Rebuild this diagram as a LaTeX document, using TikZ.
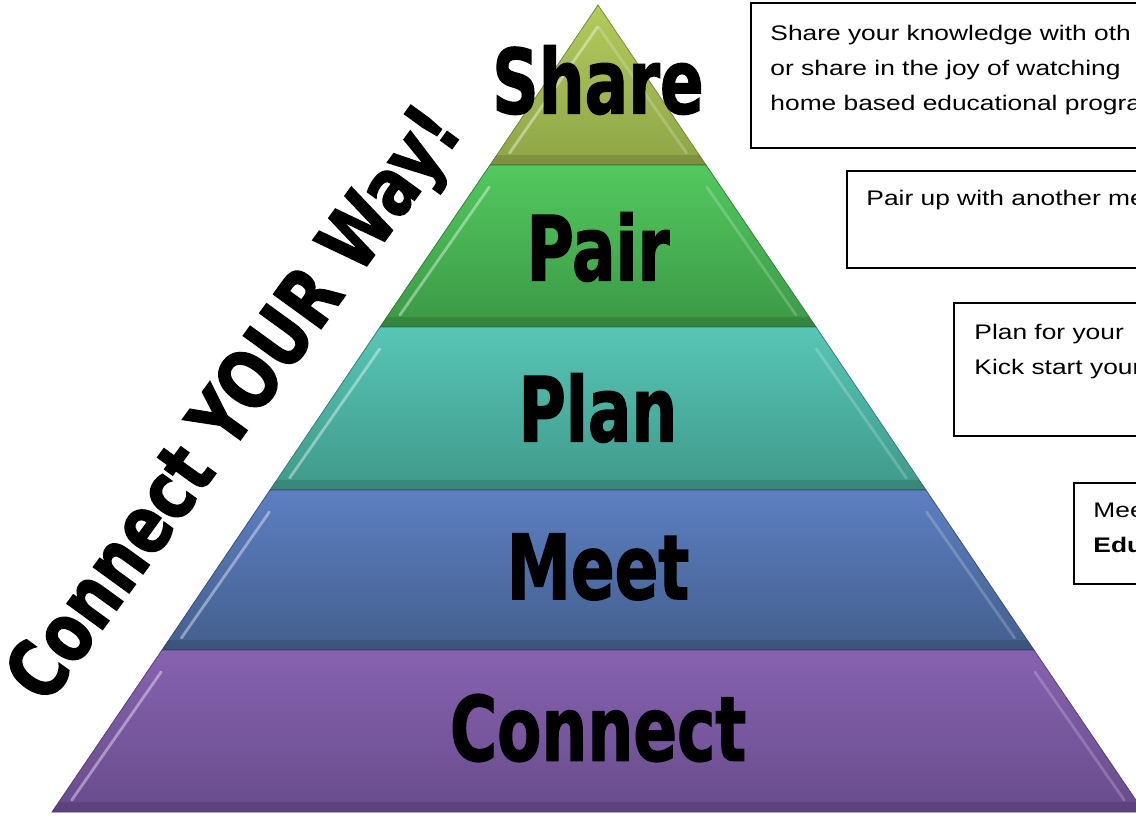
\documentclass[tikz,border=0pt]{standalone}
\usepackage{fontspec}
\setmainfont{Liberation Sans}
\newfontfamily\tierfont{DejaVu Sans Condensed Bold}[FakeBold=1.6]
\usetikzlibrary{positioning}

\definecolor{shareT}{HTML}{B3CA5C}
\definecolor{shareB}{HTML}{8EA548}
\definecolor{pairT}{HTML}{52C95E}
\definecolor{pairB}{HTML}{3C9846}
\definecolor{planT}{HTML}{58C6B6}
\definecolor{planB}{HTML}{3F998A}
\definecolor{meetT}{HTML}{5D7FC2}
\definecolor{meetB}{HTML}{435F8E}
\definecolor{connT}{HTML}{8762B0}
\definecolor{connB}{HTML}{684C8C}

\tikzset{
  tier/.style={font=\tierfont\fontsize{51}{51}\selectfont, xscale=0.8, inner sep=0pt},
  slogan/.style={font=\tierfont\fontsize{46}{46}\selectfont, rotate=54, xscale=0.87, inner sep=0pt},
  descbox/.style={draw=black, line width=1.3pt, fill=white, anchor=north west, inner sep=0pt},
  desctext/.style={anchor=north west, align=left, inner sep=0pt, xscale=1.25,
    font=\fontsize{12}{19.9}\selectfont},
  bevel/.style={white, opacity=0.4, line width=1.6pt, line cap=round},
}

\begin{document}
\begin{tikzpicture}[x=0.02cm,y=-0.02cm]
  \useasboundingbox (0,0) rectangle (1136,815);
  \clip (0,0) rectangle (1136,815);

  % pyramid bands, apex (598,5), base y=812
  \shade [top color=shareT, bottom color=shareB, draw=shareB!80!black] (598,5) -- (706,165) -- (490,165) -- cycle;
  \shade [top color=pairT, bottom color=pairB, draw=pairB!80!black] (490,165) -- (706,165) -- (816,327) -- (380,327) -- cycle;
  \shade [top color=planT, bottom color=planB, draw=planB!80!black] (380,327) -- (816,327) -- (926,490) -- (270,490) -- cycle;
  \shade [top color=meetT, bottom color=meetB, draw=meetB!80!black] (270,490) -- (926,490) -- (1034,650) -- (162,650) -- cycle;
  \shade [top color=connT, bottom color=connB, draw=connB!80!black] (162,650) -- (1034,650) -- (1144,812) -- (52,812) -- cycle;

  % bevel edges
  \foreach \ya/\yb in {5/165,165/327,327/490,490/650,650/812}
  {
    \fill [black, opacity=0.12] ({598-0.6766*(\yb-15)},{\yb-10}) -- ({598+0.6766*(\yb-15)},{\yb-10})
      -- ({598+0.6766*(\yb-5)},\yb) -- ({598-0.6766*(\yb-5)},\yb) -- cycle;
    \draw [bevel] ({598-0.6766*(\ya+12)+11},{\ya+22}) -- ({598-0.6766*(\yb-18)+11},{\yb-12});
    \draw [bevel, opacity=0.2] ({598+0.6766*(\ya+12)-11},{\ya+22}) -- ({598+0.6766*(\yb-18)-11},{\yb-12});
  }

  % tier labels
  \node [tier] (share) at (598,80) {Share};
  \node [tier] (pair) at (598,247) {Pair};
  \node [tier] (plan) at (598,408) {Plan};
  \node [tier] (meet) at (598,567) {Meet};
  \node [tier] (connect) at (598,728) {Connect};

  % slogan
  \node [slogan] (title) at (238,407) {Connect YOUR Way!};

  % description boxes
  \node [descbox, minimum width=9cm, minimum height=2.9cm] (sharebox) at (750,2) {};
  \node [desctext] (sharetext) at ([shift={(20,23)}]sharebox.north west)
    {Share your knowledge with oth\\or share in the joy of watching\\home based educational progra};

  \node [descbox, minimum width=7cm, minimum height=1.94cm] (pairbox) at (846,170) {};
  \node [desctext] (pairtext) at ([shift={(20,20)}]pairbox.north west) {Pair up with another me};

  \node [descbox, minimum width=5cm, minimum height=2.66cm] (planbox) at (953,302) {};
  \node [desctext] (plantext) at ([shift={(21,22)}]planbox.north west) {Plan\ for\ your\\Kick start your};

  \node [descbox, minimum width=3cm, minimum height=2.02cm] (meetbox) at (1073,482) {};
  \node [desctext] (meettext) at ([shift={(20,21)}]meetbox.north west) {Mee\\\textbf{Edu}};
\end{tikzpicture}
\end{document}
